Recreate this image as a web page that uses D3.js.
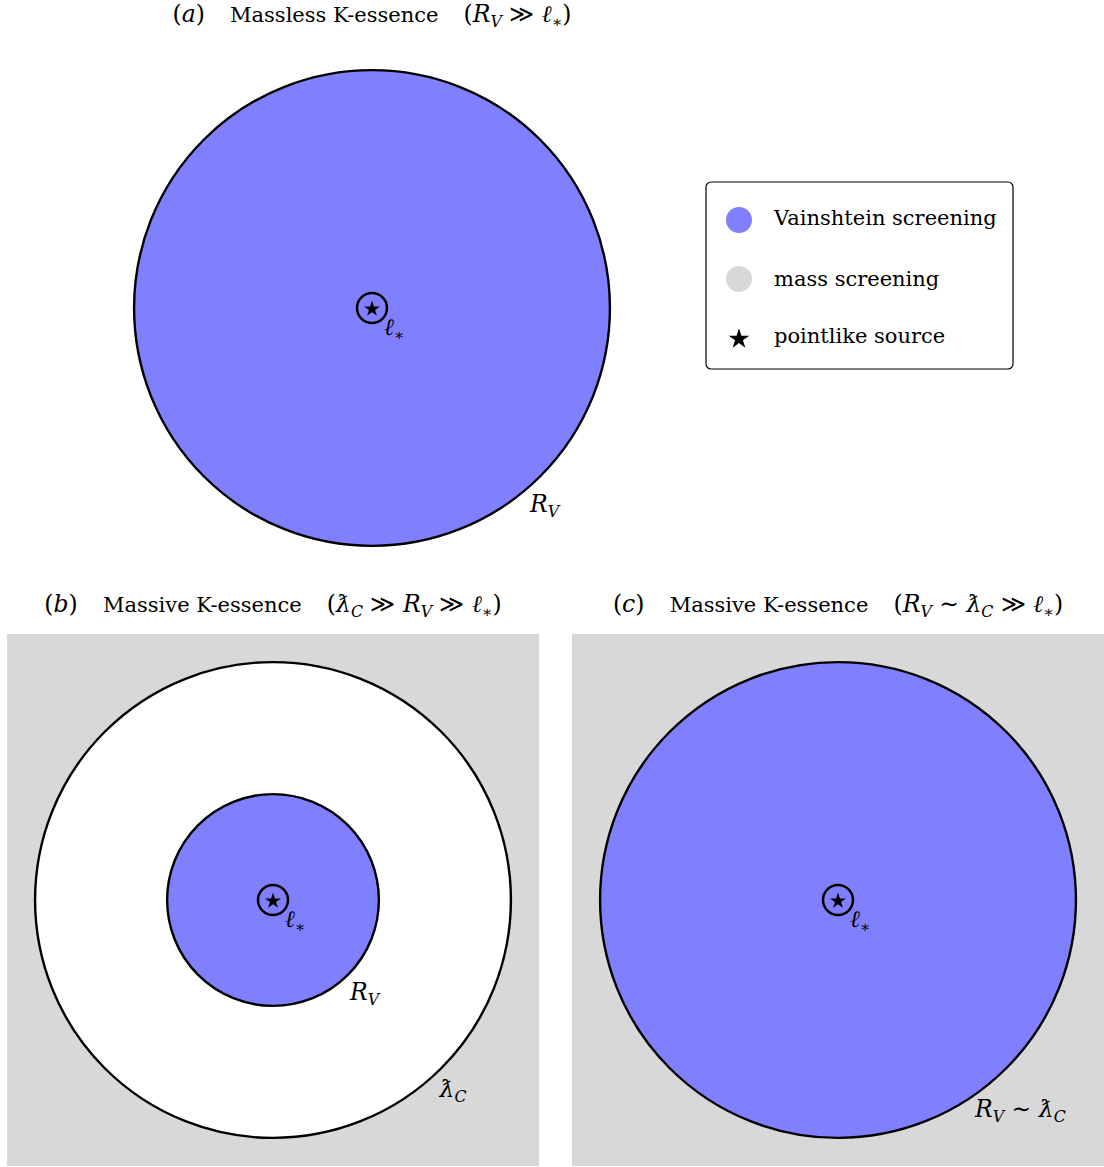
<!DOCTYPE html>
<html lang="en">
<head>
    <meta charset="UTF-8">
    <title>Screening regimes</title>
    <script src="https://cdn.jsdelivr.net/npm/d3@7"></script>
    <style>
        body { margin: 0; background: #fff; }
        svg text { fill: #000; }
    </style>
</head>
<body>
    <svg id="main" width="1104" height="1167"></svg>
    <script>
        // ---- data ----
        const panelKeys = ['a', 'b', 'c'];
        // title pieces: [text, italic?, subscript?, gapBefore?]
        const panelTitles = [
            [['(', 0], ['a', 1], [')', 0], ['Massless K-essence', 0, 0, 1], ['(', 0, 0, 1], ['R', 1], ['V', 1, 1], [' ≫ ', 0], ['ℓ', 1], ['∗', 0, 1], [')', 0]],
            [['(', 0], ['b', 1], [')', 0], ['Massive K-essence', 0, 0, 1], ['(', 0, 0, 1], ['ƛ', 1], ['C', 1, 1], [' ≫ ', 0], ['R', 1], ['V', 1, 1], [' ≫ ', 0], ['ℓ', 1], ['∗', 0, 1], [')', 0]],
            [['(', 0], ['c', 1], [')', 0], ['Massive K-essence', 0, 0, 1], ['(', 0, 0, 1], ['R', 1], ['V', 1, 1], [' ∼ ', 0], ['ƛ', 1], ['C', 1, 1], [' ≫ ', 0], ['ℓ', 1], ['∗', 0, 1], [')', 0]]
        ];
        const vainshteinRadius = [1.0, 0.445, 1.0];
        const comptonRadius = [null, 1.0, null];     // outer white disc in (b)
        const massScreening = [false, true, true];
        const sourceRadius = 0.063;
        // labels on the circles, in data units from centre
        const circleLabels = [
            [{x: 0.664, y: -0.857, t: [['R', 1], ['V', 1, 1]]}],
            [{x: 0.324, y: -0.42, t: [['R', 1], ['V', 1, 1]]},
             {x: 0.70, y: -0.826, t: [['ƛ', 1], ['C', 1, 1]]}],
            [{x: 0.576, y: -0.91, t: [['R', 1], ['V', 1, 1], [' ∼ ', 0], ['ƛ', 1], ['C', 1, 1]]}]
        ];
        const sourceLabel = [['ℓ', 1], ['∗', 0, 1]];
        const legendLabels = ['Vainshtein screening', 'mass screening', 'pointlike source'];
        const legendKinds = ['vainshtein', 'mass', 'source'];

        // ---- style ----
        const blue = '#8080ff', gray = '#d8d8d8';
        const fs = 21;
        const mathScale = 1.12;
        const serif = "'DejaVu Serif', serif";
        const halfExtent = 1.118;
        const layout = [
            {cx: 372, cy: 308, half: 266, titleY: 22},
            {cx: 273, cy: 900, half: 266, titleY: 612},
            {cx: 838, cy: 900, half: 266, titleY: 612}
        ];

        let svg = d3.select('svg#main');

        // write math-ish text with tspans (italic pieces a bit larger, like TeX math)
        function mathText(sel, pieces, size) {
            sel.style('font-family', serif);
            let shift = 0;
            pieces.forEach(function (p) {
                let sub = p[2] ? 1 : 0;
                let base = (p[1] || p[0].trim().length === 1) ? size * mathScale : size;
                if (p[0] === '(' || p[0] === ')') base = size * mathScale;
                let target = sub ? size * 0.26 : 0;
                let ts = sel.append('tspan')
                    .text(p[0])
                    .style('font-family', serif)
                    .attr('font-style', p[1] ? 'italic' : 'normal')
                    .attr('font-size', sub ? size * 0.75 : base)
                    .attr('dy', target - shift);
                if (p[3]) ts.attr('dx', size * 1.2);
                shift = target;
            });
            return sel;
        }

        panelKeys.forEach(function (k, i) {
            let L = layout[i];
            let x = d3.scaleLinear().domain([-halfExtent, halfExtent]).range([L.cx - L.half, L.cx + L.half]);
            let y = d3.scaleLinear().domain([-halfExtent, halfExtent]).range([L.cy + L.half, L.cy - L.half]);
            let r = function (v) { return x(v) - x(0); };
            let g = svg.append('g').attr('class', 'panel-' + k);

            if (massScreening[i]) {
                g.append('rect')
                    .attr('x', x(-halfExtent)).attr('y', y(halfExtent))
                    .attr('width', x(halfExtent) - x(-halfExtent))
                    .attr('height', y(-halfExtent) - y(halfExtent))
                    .attr('fill', gray);
            }
            if (comptonRadius[i] !== null) {
                g.append('circle')
                    .attr('cx', x(0)).attr('cy', y(0)).attr('r', r(comptonRadius[i]))
                    .attr('fill', '#fff').attr('stroke', '#000').attr('stroke-width', 2.4);
            }
            g.append('circle')
                .attr('cx', x(0)).attr('cy', y(0)).attr('r', r(vainshteinRadius[i]))
                .attr('fill', blue).attr('stroke', '#000').attr('stroke-width', 2.4);

            // source
            g.append('circle')
                .attr('cx', x(0)).attr('cy', y(0)).attr('r', r(sourceRadius))
                .attr('fill', 'none').attr('stroke', '#000').attr('stroke-width', 2.5);
            g.append('path')
                .attr('d', d3.symbol(d3.symbolStar, 80)())
                .attr('transform', 'translate(' + x(0) + ',' + (y(0) + 1) + ')')
                .attr('fill', '#000');
            mathText(g.append('text').attr('x', x(0.05)).attr('y', y(-0.113)), sourceLabel, fs);

            circleLabels[i].forEach(function (lab) {
                mathText(g.append('text').attr('x', x(lab.x)).attr('y', y(lab.y)), lab.t, fs);
            });

            mathText(g.append('text')
                .attr('x', L.cx).attr('y', L.titleY)
                .attr('text-anchor', 'middle'), panelTitles[i], fs);
        });

        // legend
        let leg = svg.append('g').attr('transform', 'translate(706,182)');
        leg.append('rect')
            .attr('width', 307).attr('height', 187).attr('rx', 5)
            .attr('fill', '#fff').attr('stroke', '#000').attr('stroke-width', 1.2);
        let rowY = d3.scalePoint().domain(legendKinds).range([38, 156]);
        let baseY = {vainshtein: 43, mass: 104, source: 161};
        legendKinds.forEach(function (kind, i) {
            let cy = rowY(kind);
            if (kind === 'source') {
                leg.append('path')
                    .attr('d', d3.symbol(d3.symbolStar, 130)())
                    .attr('transform', 'translate(33,' + (cy + 1) + ')')
                    .attr('fill', '#000');
            } else {
                leg.append('circle').attr('cx', 33).attr('cy', cy).attr('r', 13)
                    .attr('fill', kind === 'mass' ? gray : blue);
            }
            leg.append('text').attr('x', 68).attr('y', baseY[kind])
                .style('font-family', serif)
                .attr('font-size', fs).text(legendLabels[i]);
        });
    </script>
</body>
</html>
